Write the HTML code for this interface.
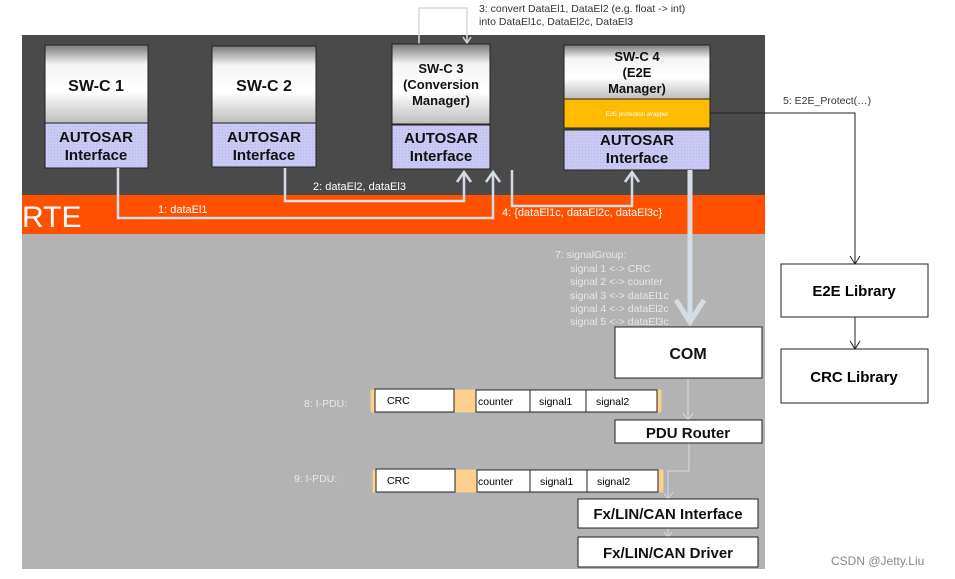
<!DOCTYPE html>
<html><head><meta charset="utf-8"><style>
html,body{margin:0;padding:0;background:#fff;}
svg{display:block;font-family:"Liberation Sans",sans-serif;}
</style></head><body>
<svg width="955" height="579" viewBox="0 0 955 579" xmlns="http://www.w3.org/2000/svg">
<defs>
<linearGradient id="g" x1="0" y1="0" x2="0" y2="1">
<stop offset="0" stop-color="#7a7a7a"/><stop offset="0.25" stop-color="#f4f4f4"/><stop offset="0.6" stop-color="#ffffff"/><stop offset="1" stop-color="#bdbdbd"/>
</linearGradient>
<pattern id="dots" width="3" height="3" patternUnits="userSpaceOnUse">
<rect width="3" height="3" fill="#c9c9f4"/><rect width="1" height="1" fill="#b5b5e6"/>
</pattern>
</defs>
<rect x="0" y="0" width="955" height="579" fill="#fff"/>
<rect x="22" y="35" width="743" height="160" fill="#4a4a4a"/>
<rect x="22" y="195" width="743" height="39" fill="#ff5000"/>
<rect x="22" y="234" width="743" height="335" fill="#b3b3b3"/>
<text x="22" y="227" font-size="30" fill="#fff">RTE</text>

<!-- conversion loop -->
<polyline points="419,44 419,8 467,8 467,41" fill="none" stroke="#d4dce6" stroke-width="1.5"/>
<polyline points="463,37 467,43 471,37" fill="none" stroke="#d4dce6" stroke-width="1.5"/>
<text x="479" y="12" font-size="10.5" fill="#333">3: convert DataEl1, DataEl2 (e.g. float -&gt; int)</text>
<text x="479" y="25" font-size="10.5" fill="#333">into DataEl1c, DataEl2c, DataEl3</text>

<!-- SW-C boxes -->
<g stroke="#222" stroke-width="1">
<rect x="45" y="45" width="103" height="78" fill="url(#g)"/>
<rect x="45" y="123" width="103" height="45" fill="url(#dots)"/>
<rect x="212" y="46" width="104" height="77" fill="url(#g)"/>
<rect x="212" y="123" width="104" height="44" fill="url(#dots)"/>
<rect x="392" y="44" width="98" height="80" fill="url(#g)"/>
<rect x="392" y="125" width="98" height="44" fill="url(#dots)"/>
<rect x="564" y="45" width="146" height="54" fill="url(#g)"/>
<rect x="564" y="99" width="146" height="29" fill="#ffbb00"/>
<rect x="564" y="130" width="146" height="40" fill="url(#dots)"/>
</g>
<g font-weight="bold" fill="#111" text-anchor="middle">
<text x="96" y="91" font-size="16">SW-C 1</text>
<text x="264" y="91" font-size="16">SW-C 2</text>
<text x="441" y="73" font-size="13">SW-C 3</text>
<text x="441" y="89" font-size="13">(Conversion</text>
<text x="441" y="105" font-size="13">Manager)</text>
<text x="637" y="61" font-size="13">SW-C 4</text>
<text x="637" y="77" font-size="13">(E2E</text>
<text x="637" y="93" font-size="13">Manager)</text>
<text x="96" y="142" font-size="15">AUTOSAR</text><text x="96" y="160" font-size="15">Interface</text>
<text x="264" y="142" font-size="15">AUTOSAR</text><text x="264" y="160" font-size="15">Interface</text>
<text x="441" y="143" font-size="15">AUTOSAR</text><text x="441" y="161" font-size="15">Interface</text>
<text x="637" y="145" font-size="15">AUTOSAR</text><text x="637" y="163" font-size="15">Interface</text>
</g>
<text x="637" y="116" font-size="6" fill="#fff" text-anchor="middle">E2E protection wrapper</text>

<!-- RTE arrows -->
<g fill="none" stroke="#d4dce6" stroke-width="2.5">
<polyline points="118,168 118,218 493,218 493,172"/>
<polyline points="285,168 285,201 464,201 464,172"/>
<polyline points="512,170 512,206 632,206 632,172"/>
<polyline points="486,182 493,172 500,182"/>
<polyline points="457,182 464,172 471,182"/>
<polyline points="625,182 632,172 639,182"/>
<line x1="690" y1="170" x2="690" y2="322" stroke-width="5"/>
<polyline points="676,300 690,322 704,300" stroke-width="5"/>
</g>
<text x="158" y="213" font-size="11" fill="#fff">1: dataEl1</text>
<text x="313" y="190" font-size="11" fill="#fff">2: dataEl2, dataEl3</text>
<text x="502" y="216" font-size="11" fill="#fff">4: {dataEl1c, dataEl2c, dataEl3c}</text>

<!-- E2E protect -->
<polyline points="710,113 855,113 855,264" fill="none" stroke="#222" stroke-width="1"/>
<polyline points="850,256 855,264 860,256" fill="none" stroke="#222" stroke-width="1"/>
<text x="783" y="104" font-size="10.5" fill="#333">5: E2E_Protect(…)</text>
<line x1="855" y1="317" x2="855" y2="349" stroke="#222"/>
<polyline points="850,341 855,349 860,341" fill="none" stroke="#222"/>
<rect x="781" y="264" width="147" height="53" fill="#fff" stroke="#222"/>
<rect x="781" y="349" width="147" height="54" fill="#fff" stroke="#222"/>
<text x="854" y="296" font-size="15" font-weight="bold" text-anchor="middle">E2E Library</text>
<text x="854" y="382" font-size="15" font-weight="bold" text-anchor="middle">CRC Library</text>

<!-- signal group text -->
<g font-size="10.5" fill="#e8e8e8">
<text x="555" y="258">7: signalGroup:</text>
<text x="570" y="272">signal 1 &lt;-&gt; CRC</text>
<text x="570" y="285">signal 2 &lt;-&gt; counter</text>
<text x="570" y="299">signal 3 &lt;-&gt; dataEl1c</text>
<text x="570" y="312">signal 4 &lt;-&gt; dataEl2c</text>
<text x="570" y="325">signal 5 &lt;-&gt; dataEl3c</text>
</g>

<!-- lower stack -->
<g fill="none" stroke="#d4dce6" stroke-width="1">
<line x1="688" y1="378" x2="688" y2="420"/>
<polyline points="683,413 688,420 693,413"/>
<polyline points="689,443 689,471 668,471 668,499"/>
<polyline points="663,492 668,499 673,492"/>
<line x1="668" y1="528" x2="668" y2="537"/>
<polyline points="664,532 668,537 672,532"/>
</g>
<g stroke="#222" fill="#fff">
<rect x="615" y="327" width="147" height="51"/>
<rect x="615" y="420" width="147" height="23"/>
<rect x="578" y="499" width="180" height="29"/>
<rect x="578" y="537" width="180" height="30"/>
</g>
<g font-weight="bold" text-anchor="middle" fill="#111">
<text x="688" y="359" font-size="16">COM</text>
<text x="688" y="438" font-size="15">PDU Router</text>
<text x="668" y="519" font-size="15">Fx/LIN/CAN Interface</text>
<text x="668" y="558" font-size="15">Fx/LIN/CAN Driver</text>
</g>

<!-- I-PDUs -->
<g font-size="10.5">
<text x="304" y="407" fill="#e8e8e8">8: I-PDU:</text>
<rect x="370" y="389" width="292" height="24" fill="#fdd08e" stroke="#a8b0bf"/>
<g fill="#fff" stroke="#222"><rect x="375" y="389" width="79" height="23"/><rect x="476" y="390" width="54" height="22"/><rect x="530" y="390" width="56" height="22"/><rect x="586" y="390" width="71" height="22"/></g>
<text x="387" y="404">CRC</text><text x="478" y="405">counter</text><text x="539" y="405">signal1</text><text x="596" y="405">signal2</text>
<text x="294" y="482" fill="#e8e8e8">9: I-PDU:</text>
<rect x="372" y="469" width="292" height="24" fill="#fdd08e" stroke="#a8b0bf"/>
<g fill="#fff" stroke="#222"><rect x="376" y="469" width="79" height="23"/><rect x="477" y="470" width="53" height="22"/><rect x="530" y="470" width="57" height="22"/><rect x="587" y="470" width="71" height="22"/></g>
<text x="387" y="484">CRC</text><text x="478" y="485">counter</text><text x="540" y="485">signal1</text><text x="597" y="485">signal2</text>
</g>

<text x="831" y="565" font-size="12" fill="#888">CSDN @Jetty.Liu</text>
</svg>
</body></html>
